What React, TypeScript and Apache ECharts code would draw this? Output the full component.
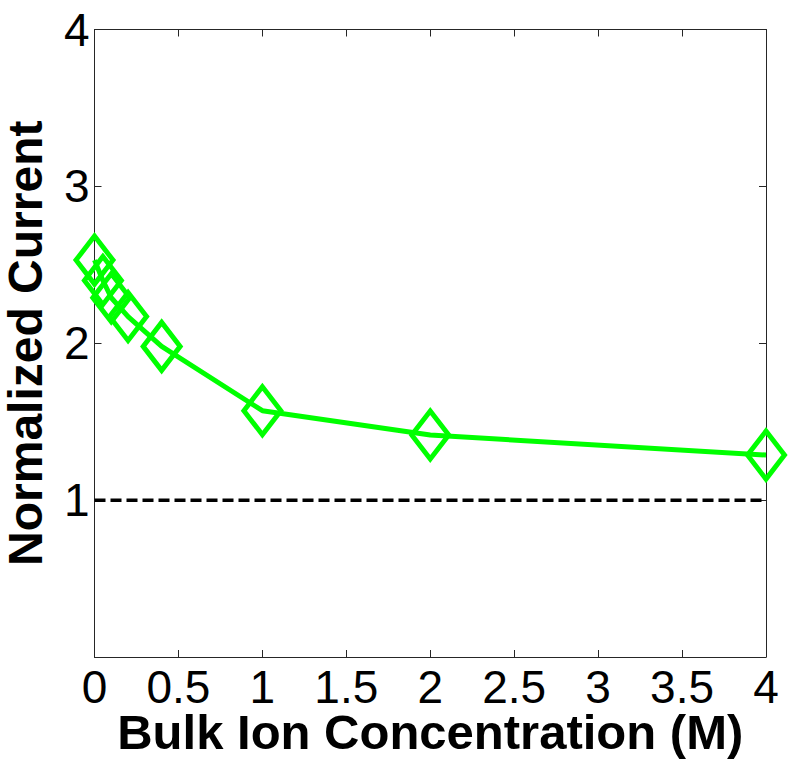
import React, { useEffect, useRef } from "react";
import * as echarts from "echarts";

const concentrations = [0, 0.05, 0.1, 0.2, 0.4, 1, 2, 4];
const normalizedCurrent = [2.53, 2.4, 2.29, 2.17, 1.98, 1.57, 1.415, 1.287];
const referenceX = [0, 4];
const referenceY = [1, 1];
const xTicks = [0, 0.5, 1, 1.5, 2, 2.5, 3, 3.5, 4];
const yTicks = [0, 1, 2, 3, 4];

const FONT = "'Liberation Sans', Arial, Helvetica, sans-serif";
const AXIS_COLOR = "#262626";

export default function App() {
  const ref = useRef<HTMLDivElement>(null);

  useEffect(() => {
    if (!ref.current) return;
    const chart = echarts.init(ref.current, undefined, { renderer: "svg" });
    const greenData = concentrations.map((c, i) => [c, normalizedCurrent[i]]);
    const dashData = referenceX.map((x, i) => [x, referenceY[i]]);
    const xMin = xTicks[0];
    const xMax = xTicks[xTicks.length - 1];
    const yMin = yTicks[0];
    const yMax = yTicks[yTicks.length - 1];

    const baseAxisLine = { show: true, onZero: false, lineStyle: { color: AXIS_COLOR, width: 1 } };
    const tick = { show: true, inside: true, length: 7, lineStyle: { color: AXIS_COLOR, width: 1 } };

    chart.setOption({
      animation: false,
      backgroundColor: "#ffffff",
      grid: {
        left: 94.5,
        right: 34,
        top: 29.5,
        bottom: 106,
        containLabel: false,
        outerBoundsMode: "none",
      },
      xAxis: [
        {
          type: "value",
          min: xMin,
          max: xMax,
          interval: 0.5,
          position: "bottom",
          axisLine: baseAxisLine,
          axisTick: tick,
          splitLine: { show: false },
          axisLabel: {
            show: true,
            fontFamily: FONT,
            fontSize: 46,
            lineHeight: 40,
            color: "#000",
            margin: 10,
            formatter: (v: number) => String(v),
          },
          name: "Bulk Ion Concentration (M)",
          nameLocation: "middle",
          nameGap: 53,
          nameMoveOverlap: false,
          nameTextStyle: {
            fontFamily: FONT,
            fontSize: 49,
            lineHeight: 44,
            fontWeight: "bold",
            color: "#000",
          },
        },
        {
          type: "value",
          min: xMin,
          max: xMax,
          interval: 0.5,
          position: "top",
          axisLine: baseAxisLine,
          axisTick: tick,
          splitLine: { show: false },
          axisLabel: { show: false },
        },
      ],
      yAxis: [
        {
          type: "value",
          min: yMin,
          max: yMax,
          interval: 1,
          position: "left",
          axisLine: baseAxisLine,
          axisTick: tick,
          splitLine: { show: false },
          axisLabel: {
            show: true,
            fontFamily: FONT,
            fontSize: 46,
            color: "#000",
            margin: 5,
            formatter: (v: number) => (v === 0 ? "" : String(v)),
          },
          name: "Normalized Current",
          nameLocation: "middle",
          nameGap: 45,
          nameMoveOverlap: false,
          nameRotate: 90,
          nameTextStyle: { fontFamily: FONT, fontSize: 48, fontWeight: "bold", color: "#000" },
        },
        {
          type: "value",
          min: yMin,
          max: yMax,
          interval: 1,
          position: "right",
          axisLine: baseAxisLine,
          axisTick: tick,
          splitLine: { show: false },
          axisLabel: { show: false },
        },
      ],
      series: [
        {
          type: "line",
          data: dashData,
          xAxisIndex: 0,
          yAxisIndex: 0,
          symbol: "none",
          lineStyle: { color: "#000", width: 3.5, type: [11, 5] },
          silent: true,
          z: 2,
        },
        {
          type: "line",
          data: greenData,
          xAxisIndex: 0,
          yAxisIndex: 0,
          clip: false,
          symbol: "diamond",
          symbolSize: [37, 48],
          showAllSymbol: true,
          itemStyle: { color: "rgba(0,0,0,0)", borderColor: "#00ff00", borderWidth: 5 },
          lineStyle: { color: "#00ff00", width: 5 },
          z: 3,
        },
      ],
    });
    return () => chart.dispose();
  }, []);

  return (
    <div
      ref={ref}
      style={{ position: "absolute", left: 0, top: 0, width: 800, height: 763 }}
    />
  );
}
